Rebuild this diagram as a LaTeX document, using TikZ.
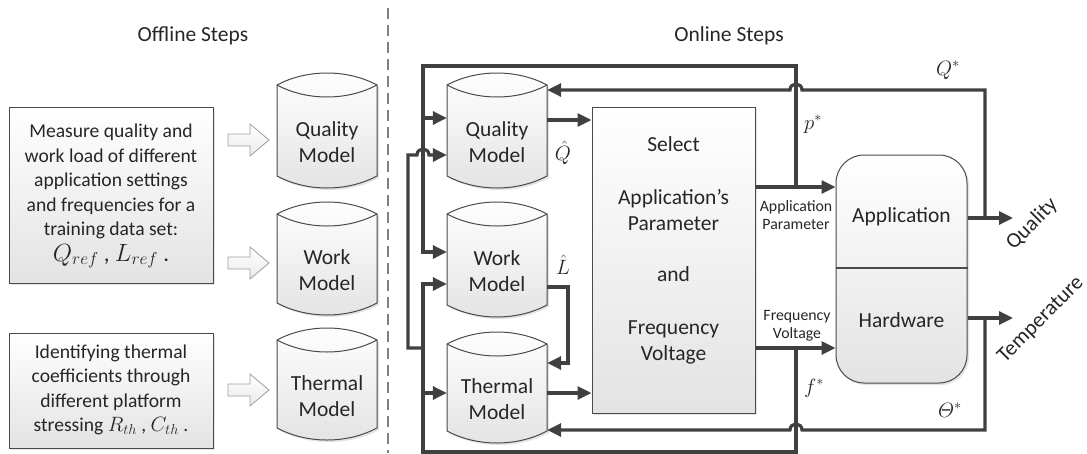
\documentclass[tikz,border=0pt]{standalone}
\usepackage{amsmath}
\usepackage{fontspec}
\setmainfont{Carlito}
\usetikzlibrary{arrows.meta,shadows}

\definecolor{ln}{HTML}{404040}
\definecolor{bd}{HTML}{4A4A4A}
\definecolor{tx}{HTML}{262626}

\tikzset{
  wire/.style={draw=ln, line width=3.2pt},
  arr/.style={wire, -{Triangle[length=14pt,width=13pt]}},
  box/.style={draw=bd, line width=1pt, top color=white, bottom color=black!11,
    drop shadow={shadow xshift=2pt, shadow yshift=-2pt, fill=black!22}},
  txt/.style={text=tx, font=\fontsize{19.6}{24.5}\selectfont, align=center},
  big/.style={text=tx, font=\fontsize{21.5}{26}\selectfont, align=center},
  small/.style={text=tx, font=\fontsize{15.8}{18}\selectfont, align=center},
  mlab/.style={text=tx, font=\fontsize{22}{26}\selectfont},
  hollow/.style={draw=black!38, line width=0.8pt, top color=white, bottom color=black!8},
}

% cylinder: name, left x, top y, height, text
\newcommand\cyl[5]{%
  \path[box] (#2,#3+12) .. controls (#2+30,#3-4) and (#2+70,#3-4) .. (#2+100,#3+12)
     -- (#2+100,#3+#4-12) .. controls (#2+70,#3+#4+4) and (#2+30,#3+#4+4) .. (#2,#3+#4-12) -- cycle;
  \draw[draw=bd, line width=1pt] (#2,#3+12) .. controls (#2+30,#3+28) and (#2+70,#3+28) .. (#2+100,#3+12);
  \node[big, inner sep=0pt, minimum width=100pt, minimum height={(#4-24)*1pt}] (#1) at (#2+50,#3+12+#4/2) {#5};
}

% hollow block arrow pointing right, tip at (269,y)
\newcommand\harrow[1]{%
  \path[hollow] (228,#1-6) -- (250,#1-6) -- (250,#1-16) -- (269,#1) -- (250,#1+16) -- (250,#1+6) -- (228,#1+6) -- cycle;
}

\begin{document}
\begin{tikzpicture}[x=1pt, y=-1pt]
\useasboundingbox (0,0) rectangle (1087,453);

% divider
\draw[draw=black!50, line width=1.6pt, dash pattern=on 11pt off 6pt] (388,8) -- (388,453);

\node[big] (off) at (193,36) {Offline Steps};
\node[big] (on) at (729,36) {Online Steps};

% offline part
\node[box, minimum width=204pt, minimum height=176pt] (b1) at (111,195) {};
\node[txt] (b1t) at (111,196) {Measure quality and\\work load of different\\application settings\\and frequencies for a\\training data set:\\[1pt]{\fontsize{23}{24}\selectfont$Q_{ref}$ , $L_{ref}$ .}};
\node[box, minimum width=204pt, minimum height=115pt] (b2) at (111,390.5) {};
\node[txt] (b2t) at (111,390) {Identifying thermal\\coefficients through\\different platform\\stressing $R_{th}$ , $C_{th}$ .};

\harrow{140}
\harrow{263}
\harrow{390}

\cyl{qmOff}{277}{73}{115}{Quality\\Model}
\cyl{wmOff}{277}{202}{113}{Work\\Model}
\cyl{tmOff}{277}{328}{112}{Thermal\\Model}

% online part
\cyl{qmOn}{447}{73}{115}{Quality\\Model}
\cyl{wmOn}{447}{202}{115}{Work\\Model}
\cyl{tmOn}{447}{332}{111}{Thermal\\Model}

\node[box, minimum width=163pt, minimum height=306pt] (sel) at (673.5,260) {};
\node[big] (selt) at (673.5,250) {Select\\[27pt]Application's\\Parameter\\[25pt]and\\[27pt]Frequency\\Voltage};

\node[box, rounded corners=28pt, minimum width=131pt, minimum height=228pt] (hw) at (901.5,269) {};
\draw[draw=bd, line width=1.2pt] (hw.west |- 0,268) -- (hw.east |- 0,268);
\node[big] (appt) at (901.5,217) {Application};
\node[big] (hwt) at (901.5,320) {Hardware};

\node[small] (apl) at (796,215) {Application\\Parameter};
\node[small] (fvl) at (797,326) {Frequency\\Voltage};

% junction points on the control outputs
\coordinate (pj) at (796,187);
\coordinate (fj) at (796,348);
\coordinate (qj) at (985,218);
\coordinate (tj) at (985,318);

% select -> application / hardware
\draw[arr] (sel.east |- pj) -- (hw.west |- pj);
\draw[arr] (sel.east |- fj) -- (hw.west |- fj);

% model outputs
\draw[arr] (qmOn.east |- 0,120) -- (sel.west |- 0,120);
\draw[arr] (wmOn.east |- 0,287) -| (568,363) -- (tmOn.east |- 0,363);
\draw[arr] (tmOn.east |- 0,393) -- (sel.west |- 0,393);

% p* feedback
\draw[arr] (pj) |- (423,66) |- (wmOn.west |- 0,252);
\draw[arr] (423,118) -- (qmOn.west |- 0,118);

% f* feedback
\draw[arr] (fj) |- (423,452) |- (wmOn.west |- 0,284);
\draw[arr] (423,393) -- (tmOn.west |- 0,393);
\draw[arr] (423,348) -- (408,348) -- (408,155) -- (417,155)
   .. controls (417,147) and (429,147) .. (429,155) -- (qmOn.west |- 0,155);

% Q* feedback
\draw[arr] (hw.east |- qj) -- (1013,218);
\draw[arr] (qj) |- (802,90) .. controls (802,82) and (790,82) .. (790,90) -- (qmOn.east |- 0,90);

% Theta* feedback
\draw[arr] (hw.east |- tj) -- (1013,318);
\draw[arr] (tj) |- (802,430) .. controls (802,422) and (790,422) .. (790,430) -- (tmOn.east |- 0,430);

% signal labels
\node[mlab] (qh) at (563,153) {$\hat{Q}$};
\node[mlab] (lh) at (563,265) {$\hat{L}$};
\node[mlab] (ps) at (813,124) {$p^{*}$};
\node[mlab] (fs) at (814,388) {$f^{*}$};
\node[mlab] (qs) at (948,70) {$Q^{*}$};
\node[mlab] (ts) at (950,410) {$\varTheta^{*}$};

\node[big, rotate=45] (ql) at (1032,224) {Quality};
\node[big, rotate=45] (tl) at (1041,320) {Temperature};
\end{tikzpicture}
\end{document}
